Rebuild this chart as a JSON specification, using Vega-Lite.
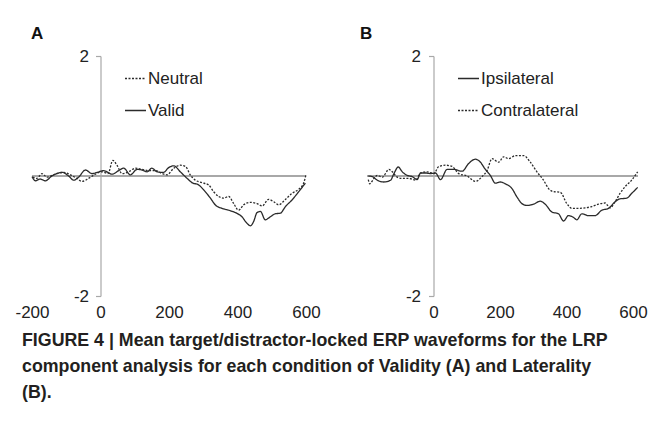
{
  "$schema": "https://vega.github.io/schema/vega-lite/v6.json",
  "padding": {"left": 14, "top": 25, "right": 0, "bottom": 0},
  "background": "white",
  "title": {
    "text": ["FIGURE 4 | Mean target/distractor-locked ERP waveforms for the LRP", "component analysis for each condition of Validity (A) and Laterality", "(B)."],
    "orient": "bottom", "anchor": "start", "frame": "group",
    "font": "Liberation Sans", "fontWeight": "bold", "fontSize": 17.8,
    "color": "#231f20", "lineHeight": 26, "offset": 12, "dx": -10
  },
  "datasets": {
    "A": [
      {"cond": "Valid", "t": -200, "v": -0.01}, {"cond": "Valid", "t": -190, "v": -0.08}, {"cond": "Valid", "t": -176, "v": -0.05}, {"cond": "Valid", "t": -161, "v": -0.08}, {"cond": "Valid", "t": -142, "v": 0.0}, {"cond": "Valid", "t": -112, "v": 0.06}, {"cond": "Valid", "t": -93, "v": 0.0}, {"cond": "Valid", "t": -78, "v": -0.07}, {"cond": "Valid", "t": -64, "v": -0.02}, {"cond": "Valid", "t": -44, "v": 0.10}, {"cond": "Valid", "t": -25, "v": 0.04}, {"cond": "Valid", "t": -10, "v": 0.06}, {"cond": "Valid", "t": 9, "v": 0.09}, {"cond": "Valid", "t": 34, "v": 0.03}, {"cond": "Valid", "t": 53, "v": 0.09}, {"cond": "Valid", "t": 68, "v": 0.13}, {"cond": "Valid", "t": 87, "v": 0.02}, {"cond": "Valid", "t": 107, "v": 0.11}, {"cond": "Valid", "t": 121, "v": 0.10}, {"cond": "Valid", "t": 136, "v": 0.07}, {"cond": "Valid", "t": 150, "v": 0.13}, {"cond": "Valid", "t": 165, "v": 0.07}, {"cond": "Valid", "t": 184, "v": 0.06}, {"cond": "Valid", "t": 199, "v": 0.14}, {"cond": "Valid", "t": 214, "v": 0.17}, {"cond": "Valid", "t": 233, "v": 0.07}, {"cond": "Valid", "t": 253, "v": -0.04}, {"cond": "Valid", "t": 267, "v": -0.11}, {"cond": "Valid", "t": 287, "v": -0.15}, {"cond": "Valid", "t": 301, "v": -0.23}, {"cond": "Valid", "t": 321, "v": -0.37}, {"cond": "Valid", "t": 335, "v": -0.48}, {"cond": "Valid", "t": 355, "v": -0.54}, {"cond": "Valid", "t": 374, "v": -0.57}, {"cond": "Valid", "t": 394, "v": -0.61}, {"cond": "Valid", "t": 413, "v": -0.68}, {"cond": "Valid", "t": 428, "v": -0.79}, {"cond": "Valid", "t": 438, "v": -0.83}, {"cond": "Valid", "t": 447, "v": -0.76}, {"cond": "Valid", "t": 457, "v": -0.61}, {"cond": "Valid", "t": 467, "v": -0.59}, {"cond": "Valid", "t": 481, "v": -0.73}, {"cond": "Valid", "t": 496, "v": -0.68}, {"cond": "Valid", "t": 510, "v": -0.63}, {"cond": "Valid", "t": 525, "v": -0.62}, {"cond": "Valid", "t": 540, "v": -0.51}, {"cond": "Valid", "t": 559, "v": -0.40}, {"cond": "Valid", "t": 579, "v": -0.26}, {"cond": "Valid", "t": 598, "v": -0.12},
      {"cond": "Neutral", "t": -198, "v": -0.02}, {"cond": "Neutral", "t": -186, "v": -0.04}, {"cond": "Neutral", "t": -171, "v": 0.04}, {"cond": "Neutral", "t": -156, "v": -0.02}, {"cond": "Neutral", "t": -137, "v": 0.02}, {"cond": "Neutral", "t": -108, "v": 0.06}, {"cond": "Neutral", "t": -88, "v": 0.02}, {"cond": "Neutral", "t": -69, "v": -0.04}, {"cond": "Neutral", "t": -54, "v": -0.09}, {"cond": "Neutral", "t": -35, "v": -0.04}, {"cond": "Neutral", "t": -15, "v": 0.03}, {"cond": "Neutral", "t": 4, "v": 0.07}, {"cond": "Neutral", "t": 22, "v": 0.04}, {"cond": "Neutral", "t": 36, "v": 0.26}, {"cond": "Neutral", "t": 48, "v": 0.18}, {"cond": "Neutral", "t": 63, "v": 0.04}, {"cond": "Neutral", "t": 82, "v": 0.07}, {"cond": "Neutral", "t": 102, "v": 0.13}, {"cond": "Neutral", "t": 121, "v": 0.11}, {"cond": "Neutral", "t": 141, "v": 0.09}, {"cond": "Neutral", "t": 160, "v": 0.09}, {"cond": "Neutral", "t": 180, "v": 0.04}, {"cond": "Neutral", "t": 194, "v": 0.02}, {"cond": "Neutral", "t": 214, "v": 0.13}, {"cond": "Neutral", "t": 233, "v": 0.18}, {"cond": "Neutral", "t": 248, "v": 0.16}, {"cond": "Neutral", "t": 262, "v": 0.02}, {"cond": "Neutral", "t": 277, "v": -0.07}, {"cond": "Neutral", "t": 296, "v": -0.11}, {"cond": "Neutral", "t": 316, "v": -0.15}, {"cond": "Neutral", "t": 330, "v": -0.26}, {"cond": "Neutral", "t": 345, "v": -0.34}, {"cond": "Neutral", "t": 360, "v": -0.37}, {"cond": "Neutral", "t": 374, "v": -0.34}, {"cond": "Neutral", "t": 389, "v": -0.46}, {"cond": "Neutral", "t": 403, "v": -0.57}, {"cond": "Neutral", "t": 418, "v": -0.48}, {"cond": "Neutral", "t": 437, "v": -0.44}, {"cond": "Neutral", "t": 457, "v": -0.46}, {"cond": "Neutral", "t": 472, "v": -0.50}, {"cond": "Neutral", "t": 491, "v": -0.39}, {"cond": "Neutral", "t": 506, "v": -0.43}, {"cond": "Neutral", "t": 520, "v": -0.48}, {"cond": "Neutral", "t": 540, "v": -0.39}, {"cond": "Neutral", "t": 559, "v": -0.29}, {"cond": "Neutral", "t": 579, "v": -0.22}, {"cond": "Neutral", "t": 593, "v": -0.12}, {"cond": "Neutral", "t": 600, "v": 0.02}
    ],
    "B": [
      {"cond": "Ipsilateral", "t": -196, "v": 0.0}, {"cond": "Ipsilateral", "t": -184, "v": -0.01}, {"cond": "Ipsilateral", "t": -169, "v": -0.07}, {"cond": "Ipsilateral", "t": -149, "v": -0.10}, {"cond": "Ipsilateral", "t": -129, "v": -0.07}, {"cond": "Ipsilateral", "t": -119, "v": 0.04}, {"cond": "Ipsilateral", "t": -106, "v": 0.15}, {"cond": "Ipsilateral", "t": -94, "v": 0.07}, {"cond": "Ipsilateral", "t": -79, "v": 0.01}, {"cond": "Ipsilateral", "t": -64, "v": -0.01}, {"cond": "Ipsilateral", "t": -49, "v": -0.06}, {"cond": "Ipsilateral", "t": -39, "v": 0.05}, {"cond": "Ipsilateral", "t": -24, "v": 0.05}, {"cond": "Ipsilateral", "t": -9, "v": 0.04}, {"cond": "Ipsilateral", "t": 6, "v": 0.05}, {"cond": "Ipsilateral", "t": 21, "v": -0.06}, {"cond": "Ipsilateral", "t": 41, "v": 0.11}, {"cond": "Ipsilateral", "t": 61, "v": 0.11}, {"cond": "Ipsilateral", "t": 86, "v": 0.08}, {"cond": "Ipsilateral", "t": 106, "v": 0.21}, {"cond": "Ipsilateral", "t": 126, "v": 0.28}, {"cond": "Ipsilateral", "t": 141, "v": 0.23}, {"cond": "Ipsilateral", "t": 156, "v": 0.11}, {"cond": "Ipsilateral", "t": 171, "v": 0.01}, {"cond": "Ipsilateral", "t": 186, "v": -0.12}, {"cond": "Ipsilateral", "t": 201, "v": -0.10}, {"cond": "Ipsilateral", "t": 216, "v": -0.13}, {"cond": "Ipsilateral", "t": 236, "v": -0.21}, {"cond": "Ipsilateral", "t": 251, "v": -0.35}, {"cond": "Ipsilateral", "t": 266, "v": -0.46}, {"cond": "Ipsilateral", "t": 281, "v": -0.49}, {"cond": "Ipsilateral", "t": 301, "v": -0.47}, {"cond": "Ipsilateral", "t": 321, "v": -0.42}, {"cond": "Ipsilateral", "t": 336, "v": -0.47}, {"cond": "Ipsilateral", "t": 356, "v": -0.60}, {"cond": "Ipsilateral", "t": 376, "v": -0.63}, {"cond": "Ipsilateral", "t": 391, "v": -0.75}, {"cond": "Ipsilateral", "t": 406, "v": -0.66}, {"cond": "Ipsilateral", "t": 421, "v": -0.69}, {"cond": "Ipsilateral", "t": 431, "v": -0.73}, {"cond": "Ipsilateral", "t": 446, "v": -0.63}, {"cond": "Ipsilateral", "t": 466, "v": -0.66}, {"cond": "Ipsilateral", "t": 486, "v": -0.66}, {"cond": "Ipsilateral", "t": 506, "v": -0.57}, {"cond": "Ipsilateral", "t": 526, "v": -0.54}, {"cond": "Ipsilateral", "t": 546, "v": -0.43}, {"cond": "Ipsilateral", "t": 561, "v": -0.38}, {"cond": "Ipsilateral", "t": 581, "v": -0.37}, {"cond": "Ipsilateral", "t": 596, "v": -0.29}, {"cond": "Ipsilateral", "t": 614, "v": -0.19},
      {"cond": "Contralateral", "t": -196, "v": -0.06}, {"cond": "Contralateral", "t": -192, "v": -0.13}, {"cond": "Contralateral", "t": -179, "v": -0.04}, {"cond": "Contralateral", "t": -169, "v": 0.01}, {"cond": "Contralateral", "t": -154, "v": -0.02}, {"cond": "Contralateral", "t": -134, "v": 0.11}, {"cond": "Contralateral", "t": -124, "v": 0.07}, {"cond": "Contralateral", "t": -109, "v": -0.02}, {"cond": "Contralateral", "t": -94, "v": -0.04}, {"cond": "Contralateral", "t": -74, "v": -0.04}, {"cond": "Contralateral", "t": -54, "v": -0.07}, {"cond": "Contralateral", "t": -39, "v": 0.05}, {"cond": "Contralateral", "t": -19, "v": 0.07}, {"cond": "Contralateral", "t": 1, "v": 0.04}, {"cond": "Contralateral", "t": 16, "v": 0.16}, {"cond": "Contralateral", "t": 36, "v": 0.18}, {"cond": "Contralateral", "t": 56, "v": 0.16}, {"cond": "Contralateral", "t": 76, "v": 0.04}, {"cond": "Contralateral", "t": 101, "v": 0.0}, {"cond": "Contralateral", "t": 126, "v": -0.09}, {"cond": "Contralateral", "t": 146, "v": -0.01}, {"cond": "Contralateral", "t": 161, "v": 0.09}, {"cond": "Contralateral", "t": 176, "v": 0.29}, {"cond": "Contralateral", "t": 196, "v": 0.23}, {"cond": "Contralateral", "t": 211, "v": 0.32}, {"cond": "Contralateral", "t": 226, "v": 0.29}, {"cond": "Contralateral", "t": 246, "v": 0.34}, {"cond": "Contralateral", "t": 271, "v": 0.34}, {"cond": "Contralateral", "t": 291, "v": 0.23}, {"cond": "Contralateral", "t": 311, "v": 0.07}, {"cond": "Contralateral", "t": 331, "v": -0.07}, {"cond": "Contralateral", "t": 346, "v": -0.21}, {"cond": "Contralateral", "t": 361, "v": -0.26}, {"cond": "Contralateral", "t": 381, "v": -0.27}, {"cond": "Contralateral", "t": 401, "v": -0.46}, {"cond": "Contralateral", "t": 416, "v": -0.54}, {"cond": "Contralateral", "t": 436, "v": -0.54}, {"cond": "Contralateral", "t": 456, "v": -0.53}, {"cond": "Contralateral", "t": 476, "v": -0.51}, {"cond": "Contralateral", "t": 496, "v": -0.47}, {"cond": "Contralateral", "t": 516, "v": -0.45}, {"cond": "Contralateral", "t": 531, "v": -0.53}, {"cond": "Contralateral", "t": 546, "v": -0.43}, {"cond": "Contralateral", "t": 561, "v": -0.29}, {"cond": "Contralateral", "t": 576, "v": -0.18}, {"cond": "Contralateral", "t": 596, "v": -0.07}, {"cond": "Contralateral", "t": 614, "v": 0.07}
    ]
  },
  "spacing": 61,
  "bounds": "flush",
  "resolve": {"scale": {"x": "independent", "y": "independent", "strokeDash": "independent"}, "legend": {"strokeDash": "independent"}, "axis": {"x": "independent", "y": "independent"}},
  "hconcat": [
    {
      "width": 274, "height": 240,
      "data": {"name": "A"},
      "title": {"text": "A", "anchor": "start", "frame": "group", "font": "Liberation Sans", "fontWeight": "bold", "fontSize": 17, "color": "#111111", "offset": 4, "dx": -1},
      "layer": [
        {"mark": {"type": "rule", "color": "#a8a8a8", "strokeWidth": 1.2}, "encoding": {"y": {"datum": 0, "type": "quantitative"}}},
        {
          "mark": {"type": "line", "color": "#2b2b2b", "strokeWidth": 1.3, "interpolate": "monotone"},
          "encoding": {
            "x": {"field": "t", "type": "quantitative", "scale": {"domain": [-200, 600], "nice": false, "zero": false},
                  "axis": {"values": [-200, 0, 200, 400, 600], "labelExpr": "datum.value < 0 ? '-' + abs(datum.value) : '' + datum.value", "domain": false, "ticks": false, "grid": false, "title": null, "labelFlush": false, "labelPadding": 8}},
            "y": {"field": "v", "type": "quantitative", "scale": {"domain": [-2, 2], "nice": false, "zero": false},
                  "axis": {"values": [-2, 2], "labelExpr": "datum.value < 0 ? '-' + abs(datum.value) : '' + datum.value", "offset": -68.5, "grid": false, "title": null, "tickSize": 5, "labelPadding": 7}},
            "strokeDash": {"field": "cond", "type": "nominal", "scale": {"domain": ["Neutral", "Valid"], "range": [[2, 1.5], [1, 0]]},
                  "legend": {"orient": "none", "legendX": 92, "legendY": 11, "title": null, "rowPadding": 12}}
          }
        }
      ]
    },
    {
      "width": 271, "height": 240,
      "data": {"name": "B"},
      "title": {"text": "B", "anchor": "start", "frame": "group", "font": "Liberation Sans", "fontWeight": "bold", "fontSize": 17, "color": "#111111", "offset": 4, "dx": -7},
      "layer": [
        {"mark": {"type": "rule", "color": "#a8a8a8", "strokeWidth": 1.2}, "encoding": {"y": {"datum": 0, "type": "quantitative"}}},
        {
          "mark": {"type": "line", "color": "#2b2b2b", "strokeWidth": 1.3, "interpolate": "monotone"},
          "encoding": {
            "x": {"field": "t", "type": "quantitative", "scale": {"domain": [-200, 615], "nice": false, "zero": false},
                  "axis": {"values": [0, 200, 400, 600], "domain": false, "ticks": false, "grid": false, "title": null, "labelFlush": false, "labelPadding": 8}},
            "y": {"field": "v", "type": "quantitative", "scale": {"domain": [-2, 2], "nice": false, "zero": false},
                  "axis": {"values": [-2, 2], "labelExpr": "datum.value < 0 ? '-' + abs(datum.value) : '' + datum.value", "offset": -66.5, "grid": false, "title": null, "tickSize": 5, "labelPadding": 8}},
            "strokeDash": {"field": "cond", "type": "nominal", "scale": {"domain": ["Ipsilateral", "Contralateral"], "range": [[1, 0], [2, 1.5]]},
                  "legend": {"orient": "none", "legendX": 90, "legendY": 11, "title": null, "rowPadding": 12}}
          }
        }
      ]
    }
  ],
  "config": {
    "view": {"stroke": null},
    "axis": {"labelFont": "Liberation Sans", "labelFontSize": 17, "labelColor": "#222222", "domainColor": "#a8a8a8", "tickColor": "#a8a8a8", "domainWidth": 1.2, "tickWidth": 1.2},
    "legend": {"symbolType": "stroke", "symbolSize": 441, "symbolStrokeWidth": 1.3, "symbolStrokeColor": "#2b2b2b", "labelFont": "Liberation Sans", "labelFontSize": 17, "labelColor": "#222222", "padding": 0, "labelOffset": 1}
  }
}
